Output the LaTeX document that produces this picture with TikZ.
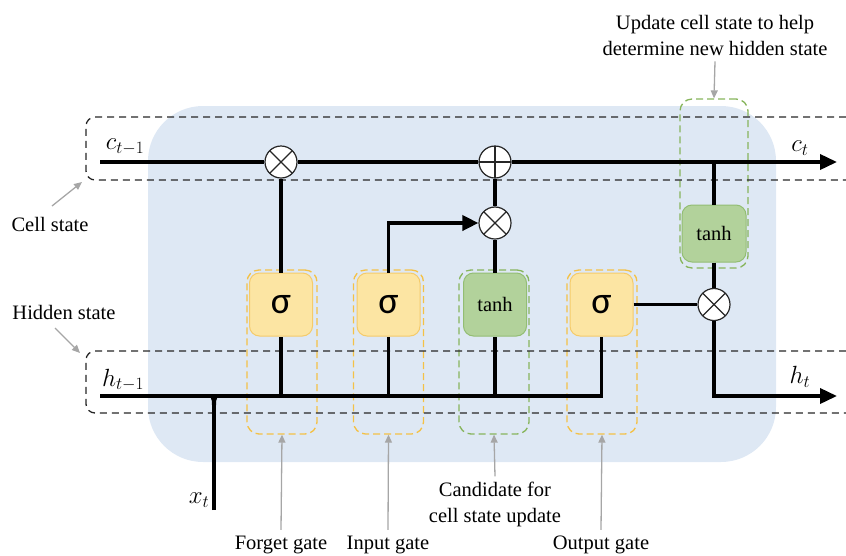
\documentclass[tikz,border=0pt]{standalone}
\usepackage{fontspec}
\setmainfont{Liberation Serif}
\newfontfamily\sigfont{Carlito}
\usetikzlibrary{arrows.meta}
\definecolor{bgblue}{HTML}{DEE8F4}
\definecolor{yfill}{HTML}{FCE5A3}
\definecolor{ydraw}{HTML}{F5CB6A}
\definecolor{ydash}{HTML}{F4C146}
\definecolor{gfill}{HTML}{B2D29B}
\definecolor{gdraw}{HTML}{93BD74}
\definecolor{gdash}{HTML}{87B55C}
\definecolor{arrgray}{HTML}{A6A6A6}
\begin{document}
\begin{tikzpicture}[x=1pt,y=-1pt,
 wire/.style={line width=3.6pt},
 bigarrow/.style={-{Triangle[length=17pt,width=15pt]}},
 opnode/.style={circle,draw=black!85,line width=1.2pt,fill=white,minimum size=32pt,inner sep=0pt},
 timesop/.style={opnode,path picture={\draw[line width=1.2pt,black!85] (path picture bounding box.north west)--(path picture bounding box.south east) (path picture bounding box.north east)--(path picture bounding box.south west);}},
 plusop/.style={opnode,path picture={\draw[line width=1.2pt,black!85] (path picture bounding box.north)--(path picture bounding box.south) (path picture bounding box.east)--(path picture bounding box.west);}},
 sigbox/.style={rectangle,rounded corners=10pt,draw=ydraw,fill=yfill,line width=1pt,minimum width=63pt,minimum height=63pt,inner sep=0pt,font=\sigfont\fontsize{38}{38}\selectfont},
 tanhbox/.style={rectangle,rounded corners=10pt,draw=gdraw,fill=gfill,line width=1pt,minimum width=63pt,minimum height=63pt,inner sep=0pt,font=\fontsize{20.5}{24}\selectfont},
 ybox/.style={rectangle,rounded corners=12pt,draw=ydash,dash pattern=on 7pt off 4pt,line width=1.3pt,minimum width=70pt,minimum height=164pt,inner sep=0pt},
 gbox/.style={rectangle,rounded corners=12pt,draw=gdash,dash pattern=on 7pt off 4pt,line width=1.3pt,minimum width=70pt,inner sep=0pt},
 statebox/.style={draw=black!85,line width=1.3pt,dash pattern=on 7pt off 5pt,rounded corners=9pt},
 lbl/.style={font=\fontsize{20.5}{26}\selectfont,align=center,inner sep=0pt},
 graya/.style={draw=arrgray,line width=1.3pt,-{Triangle[length=8pt,width=7pt]}},
 mlbl/.style={font=\fontsize{25}{25}\selectfont,inner sep=0pt}
]
\useasboundingbox (0,0) rectangle (846,555);
% background
\fill[bgblue,rounded corners=55pt] (148,106) rectangle (776,462);
% gate dashed outlines
\node[ybox] (fbox) at (282,352) {};
\node[ybox] (ibox) at (388.5,352) {};
\node[gbox,minimum height=164pt] (cbox) at (494,352) {};
\node[ybox] (obox) at (602,352) {};
\node[gbox,minimum width=68pt,minimum height=169pt] (ubox) at (714,183.5) {};
% state dashed boxes
\draw[statebox] (846,117) -- (86,117) -- (86,180) -- (846,180);
\draw[statebox] (846,351) -- (86,351) -- (86,413) -- (846,413);
% operation nodes
\node[timesop] (fx) at (281,162) {};
\node[plusop] (px) at (495,162) {};
\node[timesop] (ix) at (495,223) {};
\node[timesop] (ox) at (714,304.5) {};
% gate nodes
\node[sigbox] (sigF) at (281,304.5) {σ};
\node[sigbox] (sigI) at (388.5,304.5) {σ};
\node[tanhbox] (tanhC) at (495,304.5) {tanh};
\node[sigbox] (sigO) at (601.5,304.5) {σ};
\node[tanhbox,minimum width=64pt,minimum height=57pt] (tanhU) at (714,233.5) {tanh};
% coordinates
\coordinate (cin) at (100,162);
\coordinate (cout) at (837,162);
\coordinate (cbr) at (714,162);
\coordinate (hin) at (100,396);
\coordinate (hout) at (837,396);
\coordinate (xin) at (214,510);
% wires
\draw[wire] (cin) -- (fx);
\draw[wire] (fx) -- (px);
\draw[wire,bigarrow] (px) -- (cout);
\draw[wire] (cbr) -- (tanhU.north);
\draw[wire] (tanhU.south) -- (ox.north);
\draw[wire,bigarrow] (ox.south) |- (hout);
\draw[wire] (sigO.east) -- (ox.west);
\draw[wire] (hin) -| (sigO.south);
\draw[wire] (xin) -- (xin |- hin);
\fill (205,394) .. controls (211,396) and (212,398) .. (212,405) -- (216,405) .. controls (216,398) and (217,396) .. (223,394) -- cycle;
\draw[wire] (sigF.south |- hin) -- (sigF.south);
\draw[wire] (sigF.north) -- (fx.south);
\draw[wire] (sigI.south |- hin) -- (sigI.south);
\draw[wire,-{Triangle[length=16pt,width=15pt]}] (sigI.north) |- (ix.west);
\draw[wire] (tanhC.south |- hin) -- (tanhC.south);
\draw[wire] (tanhC.north) -- (ix.south);
\draw[wire] (ix.north) -- (px.south);
% math labels
\node[mlbl] (lc1) at (125,147) {$c_{t-1}$};
\node[mlbl] (lc2) at (800,148) {$c_{t}$};
\node[mlbl] (lh1) at (123,380) {$h_{t-1}$};
\node[mlbl] (lh2) at (800,377) {$h_{t}$};
\node[mlbl] (lx) at (199,500) {$x_{t}$};
% text labels
\node[lbl] (lcs) at (50,224) {Cell state};
\node[lbl] (lhs) at (64,312) {Hidden state};
\node[lbl] (lfg) at (281,545) {Forget gate};
\node[lbl] (lig) at (388,545) {Input gate};
\node[lbl] (lcand) at (495,504) {Candidate for\\cell state update};
\node[lbl] (log) at (601,545) {Output gate};
\node[lbl] (lup) at (715,35) {Update cell state to help\\determine new hidden state};
% gray pointer arrows
\coordinate (csa) at (52,206);
\coordinate (cst) at (82,182);
\coordinate (hsa) at (55,328);
\coordinate (hst) at (80,353);
\draw[graya] (csa) -- (cst);
\draw[graya] (hsa) -- (hst);
\draw[graya] ([yshift=6pt]lfg.north) -- (fbox.south);
\draw[graya] ([yshift=6pt]lig.north) -- (ibox.south);
\draw[graya] ([yshift=5pt]lcand.north) -- (cbox.south);
\draw[graya] ([yshift=6pt]log.north) -- (obox.south);
\draw[graya] ([yshift=-6pt]lup.south) -- (ubox.north);
\end{tikzpicture}
\end{document}
